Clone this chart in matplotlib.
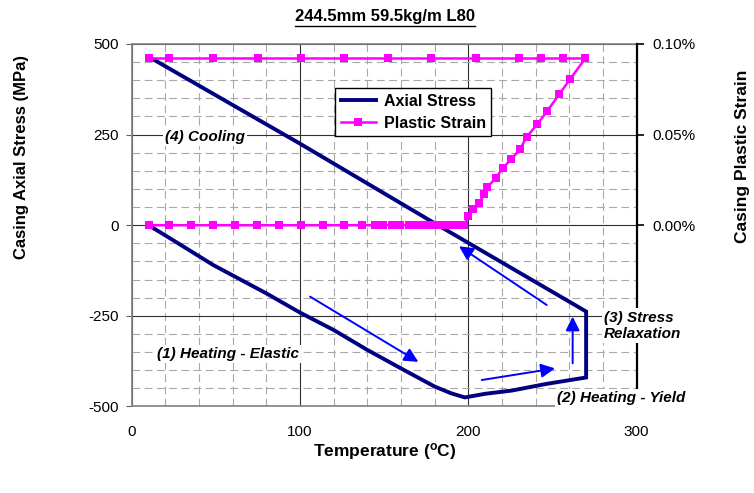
import matplotlib
matplotlib.use("Agg")
import matplotlib.pyplot as plt
from matplotlib.lines import Line2D
from matplotlib.ticker import MultipleLocator, FuncFormatter

plt.rcParams['font.family'] = ['Liberation Sans', 'DejaVu Sans']
plt.rcParams['mathtext.fontset'] = 'custom'
plt.rcParams['mathtext.rm'] = 'Liberation Sans'
plt.rcParams['mathtext.bf'] = 'Liberation Sans:bold'
plt.rcParams['axes.unicode_minus'] = False

# Axial stress path (MPa) vs temperature (C): heating, yield, relaxation, cooling
stressTemp = [10, 24.5, 48.5, 80, 100, 120, 140, 160, 170, 180, 190, 198,
              210, 226, 246, 270, 270, 182, 100, 10]
stressVal = [0, -41, -110, -188, -241, -289, -344, -395, -420, -445, -464, -475,
             -465, -456, -438, -420, -238, 0, 225, 465]

# Plastic strain (%) vs temperature (C)
strainTemp = [10, 22.4, 35.3, 48.5, 61.4, 74.3, 87.7, 100.6, 113.5, 126.3, 136.6,
              144.5, 149.5, 154.5, 159.4, 165, 168, 171, 174, 177, 180, 183, 186,
              189, 192, 195, 197.5,
              200.0, 203.0, 206.5, 209.5, 211.3, 216.3, 220.4, 225.4, 230.7, 234.7,
              241.0, 246.9, 254.0, 260.4, 269.5,
              256, 243, 230, 204.6, 178, 152, 126, 100.6, 75, 48.5, 22.4, 10]
strainVal = [0] * 27 + [0.005, 0.0087, 0.0125, 0.017, 0.021, 0.026, 0.0314, 0.0363,
                        0.0419, 0.0488, 0.0557, 0.063, 0.0722, 0.0805, 0.092] + [0.092] * 12

navy = '#000080'
magenta = '#FF00FF'
arrowBlue = '#0000FF'

fig = plt.figure(figsize=(7.54, 4.93), dpi=100)
ax = fig.add_axes([0.1747, 0.1755, 0.6696, 0.7353])

ax.set_xlim(0, 300)
ax.set_ylim(-500, 500)
ax.xaxis.set_major_locator(MultipleLocator(100))
ax.xaxis.set_minor_locator(MultipleLocator(20))
ax.yaxis.set_major_locator(MultipleLocator(250))
ax.yaxis.set_minor_locator(MultipleLocator(50))
ax.grid(which='minor', color='#a8a8a8', lw=0.8, linestyle=(0, (7, 4)))
ax.grid(which='major', color='#303030', lw=0.8, linestyle='-')
ax.set_axisbelow(True)
ax.tick_params(axis='x', which='both', length=0, pad=13, labelsize=11)
ax.tick_params(axis='y', which='major', length=4, pad=5, labelsize=11, color='#606060')
ax.tick_params(axis='y', which='minor', length=0)
for side in ['left', 'top', 'bottom']:
    ax.spines[side].set_color('#808080')
    ax.spines[side].set_linewidth(1.2)
ax.spines['right'].set_visible(False)

stressLine, = ax.plot(stressTemp, stressVal, color=navy, lw=2.8, solid_joinstyle='miter')

ax2 = ax.twinx()
ax2.set_ylim(-0.1, 0.1)
ax2.yaxis.set_major_locator(MultipleLocator(0.05))
ax2.yaxis.set_major_formatter(FuncFormatter(lambda v, p: f"{v:.2f}%" if v > -1e-9 else ""))
ax2.tick_params(axis='y', length=5, pad=6, labelsize=11, width=1.2)
ax2.spines['right'].set_linewidth(1.6)
for side in ['left', 'top', 'bottom']:
    ax2.spines[side].set_visible(False)

strainLine, = ax2.plot(strainTemp, strainVal, color=magenta, lw=1.8, marker='s',
                       markersize=6, markeredgewidth=0, clip_on=False)

leg = ax2.legend([stressLine, strainLine], ['Axial Stress', 'Plastic Strain'],
                 loc='upper left', bbox_to_anchor=(0.4027, 0.8786), borderaxespad=0,
                 prop={'weight': 'bold', 'size': 11.5}, fancybox=False, framealpha=1,
                 edgecolor='black', handlelength=2.2, labelspacing=0.45,
                 borderpad=0.35, handletextpad=0.5)
leg.get_frame().set_linewidth(1.0)

# Phase labels
labelStyle = dict(fontsize=11, fontweight='bold', fontstyle='italic', va='center',
                  ha='left', transform=ax.transData, zorder=10, clip_on=False,
                  bbox=dict(facecolor='white', edgecolor='none', pad=1.5))
ax2.text(19.8, 243, '(4) Cooling', **labelStyle)
ax2.text(14.9, -355, '(1) Heating - Elastic', **labelStyle)
ax2.text(280.6, -277, '(3) Stress\nRelaxation', linespacing=1.2, **labelStyle)
ax2.text(252.5, -476, '(2) Heating - Yield', **labelStyle)

# Direction arrows
arrowStyle = dict(arrowstyle='-|>', color=arrowBlue, lw=1.4, mutation_scale=21,
                  shrinkA=0, shrinkB=0)
ax.annotate('', xy=(194.5, -58), xytext=(246.6, -220), arrowprops=arrowStyle)
ax.annotate('', xy=(170.3, -377), xytext=(106, -197), arrowprops=arrowStyle)
ax.annotate('', xy=(251.5, -395), xytext=(208, -427), arrowprops=arrowStyle)
ax.annotate('', xy=(262, -252), xytext=(262, -381), arrowprops=arrowStyle)

fig.text(385 / 754, 1 - 452 / 493, r'Temperature ($\mathbf{^o}$C)', ha='center',
         va='center', fontsize=12.5, fontweight='bold')
fig.text(22 / 754, 1 - 157 / 493, 'Casing Axial Stress (MPa)', rotation=90,
         ha='center', va='center', fontsize=12, fontweight='bold')
fig.text(743 / 754, 1 - 156 / 493, 'Casing Plastic Strain', rotation=90,
         ha='center', va='center', fontsize=12.5, fontweight='bold')
title = fig.text(385 / 754, 1 - 17 / 493, '244.5mm 59.5kg/m L80', ha='center',
                 va='center', fontsize=12, fontweight='bold')

# underline the title
fig.canvas.draw()
bb = title.get_window_extent()
fig.add_artist(Line2D([bb.x0, bb.x1], [bb.y0 - 1, bb.y0 - 1], transform=None,
                      color='black', lw=1.0))

fig.savefig('out.png', dpi=100)
